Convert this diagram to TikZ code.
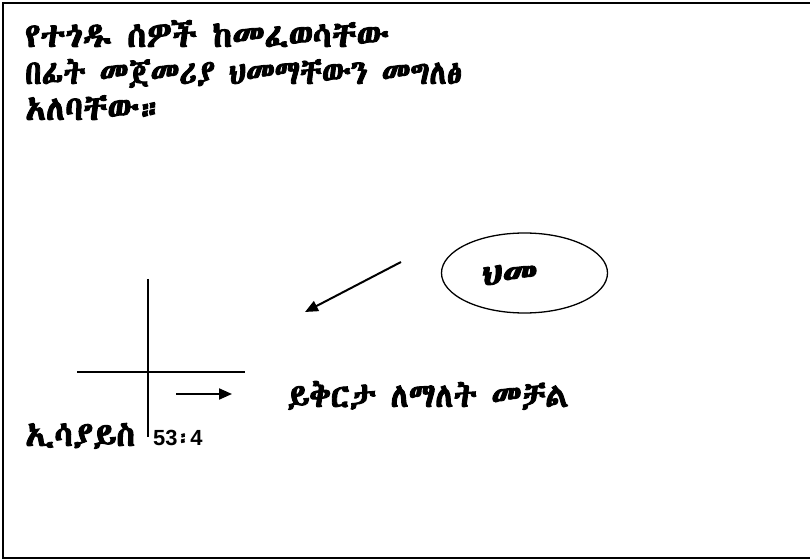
\documentclass[tikz,border=0pt]{standalone}
\usepackage{fontspec}
\usepackage{graphicx}
\usetikzlibrary{arrows.meta,shapes.geometric}
\setmainfont{Liberation Sans}
\newfontfamily\eth{Abyssinica SIL}[FakeBold=2.8]
\tikzset{
  ethtext/.style={inner sep=0pt,anchor=base west,font=\eth\fontsize{34}{40}\selectfont},
  frameline/.style={line width=1.4bp},
  thinline/.style={line width=1.3bp},
  arrowline/.style={line width=2bp,-{Triangle[length=13bp,width=11bp]}},
}
\begin{document}
\begin{tikzpicture}[x=1bp,y=-1bp]
\useasboundingbox (0,0) rectangle (810,559);
\draw[frameline] (3,3) rectangle (815,558);
% title lines
\node[ethtext] (l1) at (25,47) {\scalebox{1.02}[1]{የተጎዱ ሰዎች ከመፈወሳቸው}};
\node[ethtext] (l2) at (25,84) {\scalebox{0.91}[1]{በፊት መጀመሪያ ህመማቸውን መግለፅ}};
\node[ethtext] (l3) at (25,120) {አለባቸው።};
% ellipse
\node[draw,ellipse,line width=1.3bp,minimum width=166bp,minimum height=80bp,inner sep=0pt] (ell) at (524.5,273) {};
\node[ethtext,anchor=base] (hm) at (509.5,285) {\scalebox{1.1}[1]{ህመ}};
% diagonal arrow
\coordinate (d1) at (401,262);
\coordinate (d2) at (305,312);
\draw[arrowline] (d1) -- (d2);
% cross
\coordinate (v1) at (148,279);
\coordinate (v2) at (148,437);
\coordinate (h1) at (77,372);
\coordinate (h2) at (245,372);
\draw[thinline] (v1) -- (v2);
\draw[thinline] (h1) -- (h2);
% short arrow
\coordinate (s1) at (176,394);
\coordinate (s2) at (232,394);
\draw[arrowline] (s1) -- (s2);
% bottom texts
\node[ethtext] (yk) at (287,407) {\scalebox{0.95}[1]{ይቅርታ ለማለት መቻል}};
\node[ethtext] (is) at (25,446) {ኢሳያይስ};
\node[inner sep=0pt,anchor=base west,font=\bfseries\fontsize{22}{26}\selectfont] (ref) at (153,445) {53{\eth ፡}4};
\end{tikzpicture}
\end{document}
